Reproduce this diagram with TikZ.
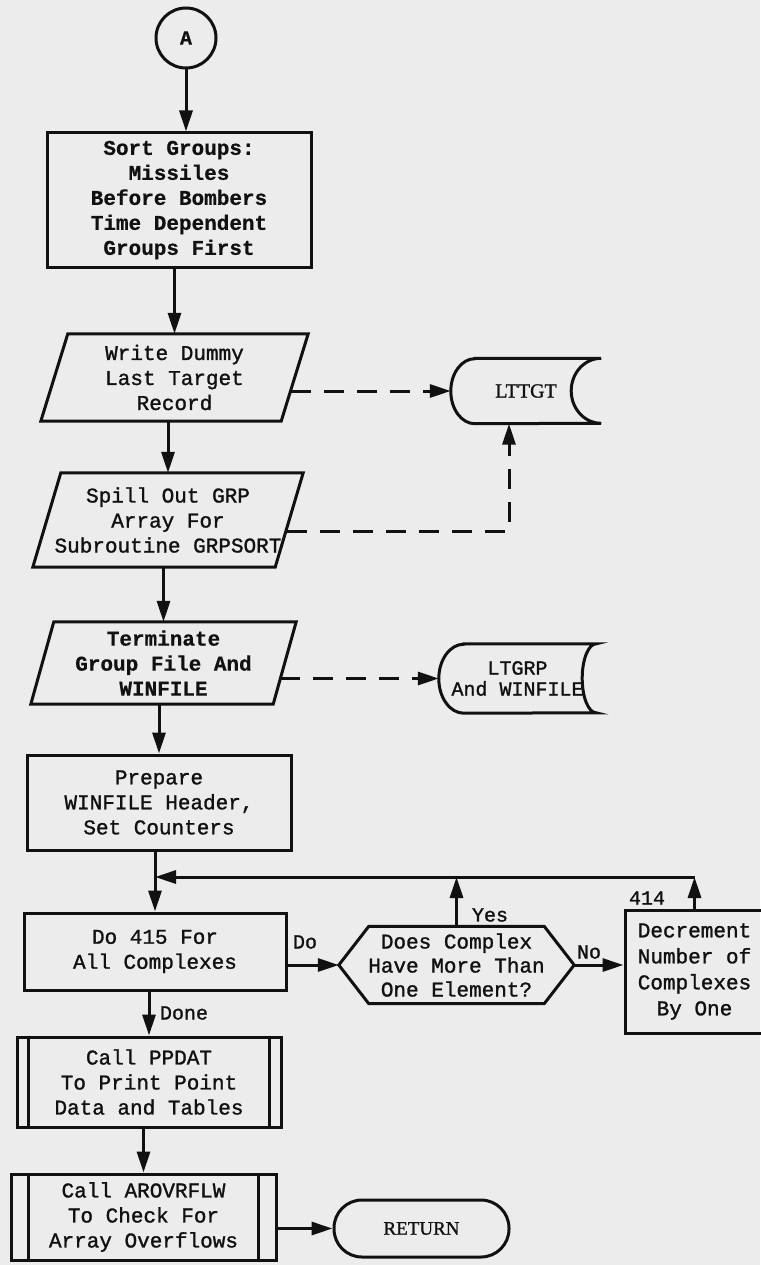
\documentclass[tikz,border=0pt]{standalone}
\usepackage{fontspec}
\setmonofont[FakeBold=1.3,BoldFeatures={FakeBold=0.6}]{Liberation Mono}
\newfontfamily\seriff[FakeBold=1.2]{Liberation Serif}
\usetikzlibrary{arrows.meta,calc}
\definecolor{paper}{HTML}{ECECEC}
\definecolor{ink}{HTML}{111111}
\begin{document}
\begin{tikzpicture}[x=1pt,y=-1pt,
  edge/.style={draw=ink, line width=3pt, line join=miter},
  box/.style={edge, inner sep=0pt, align=center, text=ink, font=\ttfamily\fontsize{21}{25}\selectfont},
  shp/.style={inner sep=0pt, align=center, text=ink, font=\ttfamily\fontsize{21}{25}\selectfont},
  lbl/.style={inner sep=0pt, text=ink, font=\ttfamily\fontsize{20}{24}\selectfont},
  flow/.style={draw=ink, line width=3pt, -{Triangle[length=21pt,width=13pt]}},
  dflow/.style={flow, dash pattern=on 20pt off 13pt}]
\fill[paper] (0,0) rectangle (760,1265);
\useasboundingbox (0,0) rectangle (760,1265);

% connector A
\node[box, circle, minimum size=60pt, font=\ttfamily\bfseries\fontsize{20}{24}\selectfont] (A) at (186,38) {A};

% sort box
\node[box, minimum width=264pt, minimum height=134pt, font=\ttfamily\bfseries\fontsize{21}{25}\selectfont] (b1) at (179,200)
  {Sort Groups:\\Missiles\\Before Bombers\\Time Dependent\\Groups First};

% write dummy (parallelogram)
\node[shp, minimum width=267pt, minimum height=87pt] (b2) at (174.5,377.5)
  {Write Dummy\\Last Target\\Record};
\draw[edge] ($(b2.north west)+(27,0)$) -- (b2.north east) -- ($(b2.south east)+(-27,0)$) -- (b2.south west) -- cycle;

% spill out
\node[shp, minimum width=270pt, minimum height=94pt] (b3) at (168,520)
  {Spill Out GRP\\Array For\\Subroutine GRPSORT};
\draw[edge] ($(b3.north west)+(28,0)$) -- (b3.north east) -- ($(b3.south east)+(-28,0)$) -- (b3.south west) -- cycle;

% terminate
\node[shp, minimum width=265pt, minimum height=82pt, font=\ttfamily\bfseries\fontsize{21}{25}\selectfont] (b4) at (163.5,663)
  {Terminate\\Group File And\\WINFILE};
\draw[edge] ($(b4.north west)+(23,0)$) -- (b4.north east) -- ($(b4.south east)+(-23,0)$) -- (b4.south west) -- cycle;

% LTTGT store
\node[shp, minimum width=150pt, minimum height=65pt, font=\seriff\fontsize{20}{24}\selectfont] (s1) at (526,391) {LTTGT};
\draw[edge] ($(s1.north west)+(24,0)$) -- (s1.north east)
  arc[start angle=90, end angle=270, x radius=30pt, y radius=32.5pt]
  -- ($(s1.south west)+(24,0)$)
  arc[start angle=270, end angle=90, x radius=24pt, y radius=32.5pt] -- cycle;

% LTGRP store
\node[shp, minimum width=157pt, minimum height=69pt, font=\ttfamily\fontsize{20}{21}\selectfont] (s2) at (517.5,678.5) {LTGRP\\And WINFILE};
\draw[edge] ($(s2.north west)+(25,0)$) -- (s2.north east)
  arc[start angle=90, end angle=270, x radius=14pt, y radius=34.5pt]
  -- ($(s2.south west)+(25,0)$)
  arc[start angle=270, end angle=90, x radius=25pt, y radius=34.5pt] -- cycle;

% prepare
\node[box, minimum width=264pt, minimum height=95pt] (b5) at (159,802.5)
  {Prepare\\WINFILE Header,\\Set Counters};

% do 415
\node[box, minimum width=262pt, minimum height=77pt] (b6) at (155,951.5)
  {Do 415 For\\All Complexes};

% decision hexagon
\node[shp, minimum width=235pt, minimum height=77pt, font=\ttfamily\fontsize{21}{24}\selectfont] (hx) at (456.5,965)
  {Does Complex\\Have More Than\\One Element?};
\draw[edge] (hx.west) -- ($(hx.north west)+(30,0)$) -- ($(hx.north east)+(-30,0)$) -- (hx.east)
  -- ($(hx.south east)+(-30,0)$) -- ($(hx.south west)+(30,0)$) -- cycle;

% decrement
\node[box, minimum width=139pt, minimum height=123pt, font=\ttfamily\fontsize{21}{26}\selectfont] (b7) at (694.5,971.5)
  {Decrement\\Number of\\Complexes\\By One};

% call PPDAT
\node[box, minimum width=264pt, minimum height=90pt] (b8) at (149,1082)
  {Call PPDAT\\To Print Point\\Data and Tables};
\draw[edge] ($(b8.north west)+(13,0)$) -- ($(b8.south west)+(13,0)$);
\draw[edge] ($(b8.north east)+(-13,0)$) -- ($(b8.south east)+(-13,0)$);

% call AROVRFLW
\node[box, minimum width=265pt, minimum height=86pt] (b9) at (143.5,1217)
  {Call AROVRFLW\\To Check For\\Array Overflows};
\draw[edge] ($(b9.north west)+(19,0)$) -- ($(b9.south west)+(19,0)$);
\draw[edge] ($(b9.north east)+(-19,0)$) -- ($(b9.south east)+(-19,0)$);

% return
\node[box, rounded corners=28pt, minimum width=175pt, minimum height=57pt, font=\seriff\fontsize{19}{22}\selectfont] (ret) at (421.5,1228.5) {RETURN};

% labels
\node[lbl] (yes) at (490,915) {Yes};
\node[lbl] (n414) at (647,898) {414};
\node[lbl] (do) at (305,942) {Do};
\node[lbl] (no) at (589,952) {No};
\node[lbl] (done) at (184,1013) {Done};

% connectors
\coordinate (lp) at (0,877);
\draw[flow] (A.south) -- (A.south |- b1.north);
\draw[flow] (b2.north |- b1.south) -- (b2.north);
\draw[flow] (b3.north |- b2.south) -- (b3.north);
\draw[flow] (b4.north |- b3.south) -- (b4.north);
\draw[flow] (b5.north |- b4.south) -- (b5.north);
\draw[flow] (b6.north |- b5.south) -- (b6.north);
\draw[flow] (b7.north) -- (b7.north |- lp);
\draw[flow] (b7.north |- lp) -- (b6.north |- lp);
\draw[flow] (hx.north) -- (hx.north |- lp);
\draw[flow] (b6.east |- hx.west) -- (hx.west);
\draw[flow] (hx.east) -- (hx.east -| b7.west);
\draw[flow] (b8.north |- b6.south) -- (b8.north);
\draw[flow] (b9.north |- b8.south) -- (b9.north);
\draw[flow] (b9.east |- ret.west) -- (ret.west);

% dashed file connectors
\draw[dflow] ($(b2.east)+(-17,13.5)$) -- (s1.west);
\draw[dflow] ($(b3.east)+(-16,11)$) -| ($(s1.south)+(-17,0)$);
\draw[dflow] ($(b4.east)+(-16,15.5)$) -- (s2.west);
\end{tikzpicture}
\end{document}
